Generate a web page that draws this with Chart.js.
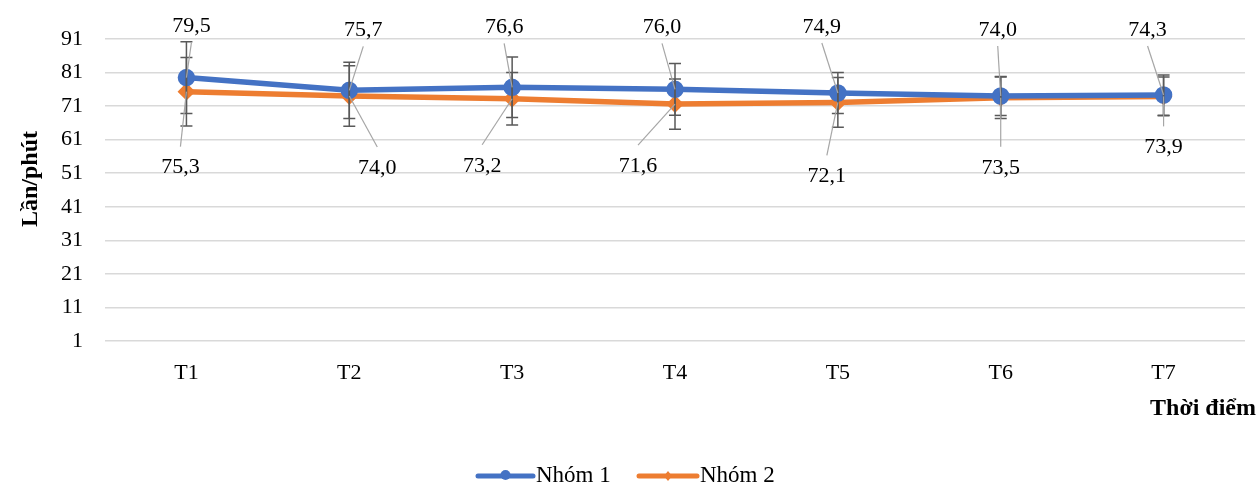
<!DOCTYPE html>
<html lang="vi">
<head>
    <meta charset="UTF-8">
    <title>Lần/phút theo thời điểm</title>
    <script src="https://cdn.jsdelivr.net/npm/chart.js"></script>
    <style>
        html, body {
            margin: 0;
            padding: 0;
            background: #ffffff;
        }
        .chart-container {
            width: 1258px;
            height: 485px;
        }
    </style>
</head>
<body>
    <div class="chart-container">
        <canvas id="myChart"></canvas>
    </div>

    <script>
        // Dữ liệu
        const categories = ['T1', 'T2', 'T3', 'T4', 'T5', 'T6', 'T7'];
        const nhom1 = [79.5, 75.7, 76.6, 76.0, 74.9, 74.0, 74.3];
        const nhom2 = [75.3, 74.0, 73.2, 71.6, 72.1, 73.5, 73.9];
        const saiSo1 = [10.7, 8.4, 9.0, 7.7, 6.1, 5.8, 6.0];
        const saiSo2 = [10.2, 9.0, 7.8, 7.5, 7.4, 6.2, 5.8];
        const yTicks = [1, 11, 21, 31, 41, 51, 61, 71, 81, 91];

        // vị trí nhãn so với điểm (dx, dy)
        const labelOffset1 = [[5, -52], [14, -61], [-8, -61], [-13, -63], [-16, -67], [-3, -67], [-16, -66]];
        const labelOffset2 = [[-6, 75], [28, 71], [-30, 66], [-37, 61], [-11, 73], [0, 69], [0, 50]];

        const FONT = "'Liberation Serif', 'Times New Roman', serif";
        const fmt = v => v.toFixed(1).replace('.', ',');

        const errorBars = {
            id: 'errorBars',
            afterDatasetsDraw(chart) {
                const ctx = chart.ctx;
                const x = chart.scales.x, y = chart.scales.y;
                const all = [[nhom1, saiSo1], [nhom2, saiSo2]];
                ctx.save();
                ctx.strokeStyle = '#595959';
                ctx.lineWidth = 1.5;
                all.forEach(([vals, errs]) => {
                    vals.forEach((v, i) => {
                        const px = x.getPixelForValue(i);
                        const top = y.getPixelForValue(v + errs[i]);
                        const bot = y.getPixelForValue(v - errs[i]);
                        ctx.beginPath();
                        ctx.moveTo(px, top); ctx.lineTo(px, bot);
                        ctx.moveTo(px - 6, top); ctx.lineTo(px + 6, top);
                        ctx.moveTo(px - 6, bot); ctx.lineTo(px + 6, bot);
                        ctx.stroke();
                    });
                });
                ctx.restore();
            }
        };

        const dataLabels = {
            id: 'dataLabels',
            afterDraw(chart) {
                const ctx = chart.ctx;
                const x = chart.scales.x, y = chart.scales.y;
                ctx.save();
                ctx.font = '22px ' + FONT;
                ctx.textAlign = 'center';
                ctx.textBaseline = 'middle';
                const draw = (vals, offs, above) => {
                    vals.forEach((v, i) => {
                        const px = x.getPixelForValue(i);
                        const py = y.getPixelForValue(v);
                        const tx = px + offs[i][0];
                        const ty = py + offs[i][1];
                        // đường dẫn
                        ctx.strokeStyle = '#a6a6a6';
                        ctx.lineWidth = 1.2;
                        ctx.beginPath();
                        ctx.moveTo(tx, above ? ty + 17 : ty - 20);
                        ctx.lineTo(px, py);
                        ctx.stroke();
                        ctx.fillStyle = '#000000';
                        ctx.fillText(fmt(v), tx, ty + 1);
                    });
                };
                draw(nhom1, labelOffset1, true);
                draw(nhom2, labelOffset2, false);

                // tiêu đề trục
                ctx.font = 'bold 24px ' + FONT;
                ctx.save();
                ctx.translate(31, 179);
                ctx.rotate(-Math.PI / 2);
                ctx.fillText('Lần/phút', 0, 0);
                ctx.restore();
                ctx.textAlign = 'right';
                ctx.fillText('Thời điểm', 1256, 409);

                // chú giải
                const items = [
                    { text: 'Nhóm 1', color: '#4472C4', x0: 478, x1: 533, style: 'circle' },
                    { text: 'Nhóm 2', color: '#ED7D31', x0: 639, x1: 697, style: 'diamond' }
                ];
                const ly = 476;
                ctx.font = '23px ' + FONT;
                ctx.textAlign = 'left';
                items.forEach(it => {
                    ctx.strokeStyle = it.color;
                    ctx.fillStyle = it.color;
                    ctx.lineWidth = 5;
                    ctx.lineCap = 'round';
                    ctx.beginPath();
                    ctx.moveTo(it.x0, ly); ctx.lineTo(it.x1, ly);
                    ctx.stroke();
                    const cx = (it.x0 + it.x1) / 2;
                    ctx.beginPath();
                    if (it.style === 'circle') {
                        ctx.arc(cx, ly - 1, 5, 0, Math.PI * 2);
                    } else {
                        ctx.moveTo(cx, ly - 5); ctx.lineTo(cx + 4, ly);
                        ctx.lineTo(cx, ly + 5); ctx.lineTo(cx - 4, ly);
                        ctx.closePath();
                    }
                    ctx.fill();
                    ctx.fillStyle = '#000000';
                    ctx.fillText(it.text, it.x1 + 3, ly);
                });
                ctx.restore();
            }
        };

        const ctx = document.getElementById('myChart').getContext('2d');
        new Chart(ctx, {
            type: 'line',
            data: {
                labels: categories,
                datasets: [
                    {
                        label: 'Nhóm 1',
                        data: nhom1,
                        borderColor: '#4472C4',
                        backgroundColor: '#4472C4',
                        borderWidth: 5.5,
                        pointStyle: 'circle',
                        pointRadius: 6,
                        tension: 0,
                        fill: false
                    },
                    {
                        label: 'Nhóm 2',
                        data: nhom2,
                        borderColor: '#ED7D31',
                        backgroundColor: '#ED7D31',
                        borderWidth: 5.5,
                        pointStyle: 'rectRot',
                        pointRadius: 5,
                        tension: 0,
                        fill: false
                    }
                ]
            },
            options: {
                responsive: true,
                maintainAspectRatio: false,
                animation: false,
                layout: { padding: { top: 39, right: 13, left: 0, bottom: 0 } },
                plugins: {
                    legend: { display: false },
                    tooltip: { enabled: false }
                },
                scales: {
                    x: {
                        offset: true,
                        grid: { display: false, offset: true },
                        border: { display: false },
                        ticks: {
                            font: { family: FONT, size: 22 },
                            color: '#000000',
                            padding: 11
                        },
                        afterFit(scale) { scale.height = 144; }
                    },
                    y: {
                        min: 1,
                        max: 91,
                        afterBuildTicks(scale) {
                            scale.ticks = yTicks.map(v => ({ value: v }));
                        },
                        grid: { color: '#d9d9d9', lineWidth: 1.5, drawTicks: false },
                        border: { display: false },
                        ticks: {
                            font: { family: FONT, size: 22 },
                            color: '#000000',
                            padding: 22
                        },
                        afterFit(scale) { scale.width = 105; }
                    }
                }
            },
            plugins: [errorBars, dataLabels]
        });
    </script>
</body>
</html>
